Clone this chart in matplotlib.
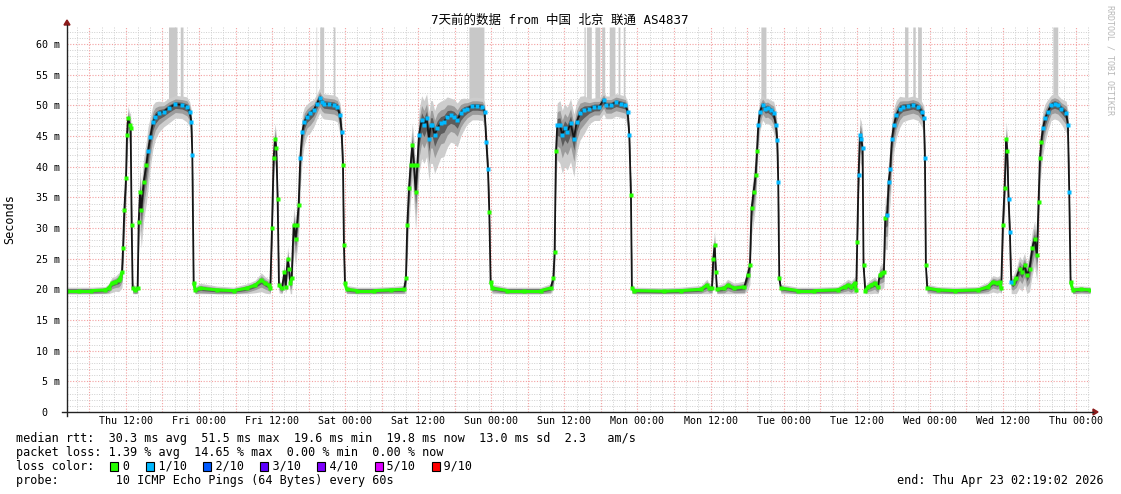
import numpy as np
import matplotlib
matplotlib.use("Agg")
import matplotlib.pyplot as plt
from matplotlib.collections import LineCollection
from matplotlib.patches import Rectangle, Polygon
from matplotlib.lines import Line2D
from matplotlib.transforms import IdentityTransform

# ---------------- data (x = hours since Thu Apr 16 02:19:02) ----------------
hours = [
    0.0, 2.0, 4.0, 6.3, 6.84, 7.39, 7.94, 8.48, 8.76, 9.03, 9.20, 9.41, 9.69, 9.85, 10.02,
    10.29, 10.45, 10.62, 10.78, 11.22, 11.60, 11.77, 11.99, 12.20, 12.59, 13.03, 13.30,
    13.68, 14.12, 14.50, 15.05, 15.87, 16.69, 17.79, 18.88, 19.70, 20.14, 20.42, 20.58,
    20.80, 21.07, 21.89, 24.63, 27.37, 29.56, 30.92, 31.91, 32.57, 33.11, 33.39, 33.66,
    33.93, 34.15, 34.37, 34.59, 34.81, 35.30, 35.69, 35.91, 36.23, 36.45, 36.67, 36.89,
    37.22, 37.55, 37.77, 38.04, 38.31, 38.64, 38.97, 39.41, 39.96, 40.50, 41.05, 41.49,
    41.87,
    42.2, 43.02, 43.84, 44.39, 44.83, 45.10, 45.32, 45.48, 45.65, 45.92, 47.67, 50.41,
    53.15, 55.34, 55.66, 55.88, 56.16, 56.43, 56.70, 56.98, 57.25, 57.53, 57.80, 58.24,
    58.62, 59.06, 59.44, 59.72, 59.99, 60.37, 60.81, 61.36, 61.90, 62.45, 63.00, 63.55,
    64.09, 64.64, 65.19, 65.74, 66.56, 67.38, 68.20, 68.58, 68.86, 69.13, 69.35, 69.57,
    69.84, 72.30, 75.04, 77.78, 79.42, 79.86, 80.08, 80.30, 80.51, 80.95, 81.33, 81.72,
    82.16, 82.70, 83.25, 83.69, 84.24,
    84.95, 85.77, 86.59, 87.41, 88.12, 88.51, 89.33, 90.15, 90.97, 91.68, 92.06, 92.34,
    92.61, 92.77, 93.16, 98.08, 100.82, 104.10, 105.09, 105.47, 105.91, 106.13, 106.35,
    106.57, 106.73, 107.94, 108.48, 109.58, 111.22, 111.77, 112.15, 112.42, 112.75,
    113.08, 113.30, 113.52, 113.79, 114.23, 114.67, 115.05, 115.60, 116.04, 116.42,
    116.64, 116.80, 116.97, 117.24, 119.98, 122.71, 126.55,
    127.69, 128.24, 128.79, 129.34, 129.61, 129.77, 129.99, 130.21, 130.43, 130.65,
    130.81, 131.09, 131.53, 132.07, 132.62, 133.17, 133.44, 133.82, 134.15, 134.37,
    134.70, 134.92, 135.19, 135.47, 135.80, 136.18, 136.73, 137.27, 138.09, 138.92,
    139.74, 140.39, 140.72, 140.89, 141.05, 141.27, 143.02, 145.76, 149.59, 151.23,
    152.05, 152.76, 153.15, 153.42, 153.69, 153.97, 154.24, 154.41, 154.62, 154.84,
    155.06, 155.34, 155.88, 156.43, 156.81, 157.25, 157.63, 158.07, 158.51, 158.89,
    159.28, 159.55, 159.77, 159.99, 160.26, 160.64, 161.08, 161.63, 162.18, 162.72,
    163.27, 164.09, 164.37, 164.59, 164.81, 165.19, 166.56, 168.0,
]

median_ms = [
    19.8, 19.8, 19.8, 19.9, 20.2, 21.0, 21.2, 21.5, 21.8, 22.8, 26.7, 32.9, 38.1, 45.2, 47.9,
    46.8, 46.3, 30.5, 20.2, 19.9, 20.2, 31.0, 35.9, 33.0, 37.5, 40.3, 42.5,
    44.9, 47.3, 48.2, 48.7, 49.0, 49.6, 50.2, 50.1, 49.8, 49.0, 47.3, 41.9,
    21.0, 19.9, 20.2, 19.9, 19.8, 20.2, 20.7, 21.5, 21.0, 20.7, 20.2, 30.0,
    41.4, 44.6, 43.0, 34.8, 20.7, 20.2, 22.8, 20.4, 25.0, 23.4, 21.0, 21.8,
    30.5, 28.3, 30.5, 33.7, 41.4, 45.7, 47.3, 48.2, 48.7, 49.2, 50.3, 51.3,
    50.6,
    50.3, 50.2, 50.1, 49.8, 48.4, 45.7, 40.3, 27.2, 21.0, 20.0, 19.8, 19.8,
    19.9, 20.0, 21.8, 30.5, 36.5, 40.3, 43.5, 40.3, 35.9, 40.3, 45.2, 47.6,
    46.8, 47.9, 44.6, 46.8, 46.8, 45.2, 46.3, 47.1, 47.3, 48.2, 48.4, 48.2,
    47.6, 48.7, 49.2, 49.5, 49.9, 49.9, 49.8, 49.0, 44.1, 39.7, 32.6, 21.2,
    20.2, 19.8, 19.8, 19.8, 20.2, 21.8, 26.1, 42.5, 46.8, 46.8, 45.2, 46.3,
    45.7, 47.1, 44.6, 47.3, 48.7,
    49.2, 49.5, 49.8, 49.8, 50.9, 50.1, 50.1, 50.5, 50.3, 50.1, 49.0, 45.2,
    35.4, 20.2, 19.8, 19.7, 19.8, 20.0, 20.7, 20.2, 20.2, 25.0, 27.2,
    22.8, 20.0, 20.2, 20.7, 20.2, 20.4, 22.3, 23.9, 33.2, 35.9,
    38.6, 42.5, 46.8, 49.0, 50.1, 49.5, 49.6, 49.2, 48.7, 46.8,
    44.3, 37.5, 21.8, 20.2, 19.8, 19.8, 19.9,
    20.4, 20.7, 20.4, 21.0, 19.9, 27.8, 38.6, 45.2, 44.6, 43.0,
    23.9, 19.8, 20.4, 20.7, 21.0, 20.4, 22.3, 22.6, 22.8, 31.6,
    32.1, 37.5, 39.7, 44.6, 46.8, 48.4, 49.5, 49.8, 49.9, 50.1,
    49.8, 49.0, 47.9, 41.4, 23.9, 20.2, 19.9, 19.8, 19.9, 20.4,
    21.2, 21.0, 21.2, 20.2, 30.5, 36.5, 44.6, 42.5, 34.8, 29.4,
    21.2, 21.0, 21.8, 23.4, 22.8, 23.9, 22.3, 23.4, 26.7, 28.3,
    25.6, 34.3, 41.4, 44.1, 46.3, 47.9, 49.0, 50.1, 50.3, 50.1,
    49.5, 48.7, 46.8, 35.9, 21.2, 19.9, 20.0, 19.9,
]

smoke_ms = [
    0.7, 0.7, 0.7, 0.7, 0.9, 1.2, 1.2, 1.5, 1.5, 2.0, 3.0, 3.5, 3.5, 3.0, 2.5,
    2.5, 3.0, 3.0, 1.0, 0.8, 1.0, 4.0, 5.0, 5.0, 5.0, 5.0, 5.0,
    4.0, 3.5, 3.0, 2.5, 2.0, 2.0, 1.8, 1.8, 2.0, 2.0, 2.5, 3.0,
    1.0, 0.8, 1.0, 0.8, 0.7, 0.9, 1.0, 1.5, 1.3, 1.2, 1.0, 3.0,
    3.5, 3.0, 3.0, 3.0, 1.0, 1.0, 2.0, 1.0, 2.5, 2.0, 1.5, 2.0,
    3.5, 3.5, 3.5, 4.0, 4.0, 3.5, 3.0, 2.5, 2.5, 2.2, 2.0, 2.0,
    2.0,
    2.0, 2.0, 2.0, 2.0, 2.5, 3.0, 3.0, 2.0, 1.0, 0.8, 0.7, 0.7,
    0.7, 0.8, 2.0, 4.0, 4.5, 4.5, 4.5, 5.0, 5.0, 5.0, 5.0, 5.0,
    5.0, 5.0, 5.5, 5.0, 5.0, 5.0, 5.0, 4.5, 4.5, 4.0, 3.5, 3.5,
    3.5, 3.0, 2.5, 2.0, 1.8, 1.8, 1.8, 2.0, 2.5, 3.0, 3.0, 1.0,
    0.8, 0.7, 0.7, 0.7, 0.9, 1.5, 3.0, 4.0, 4.5, 5.0, 5.0, 5.0,
    5.0, 5.0, 5.0, 4.0, 3.5,
    3.0, 2.0, 1.8, 1.8, 1.8, 1.8, 1.8, 1.8, 1.8, 1.8, 2.0, 2.5,
    3.0, 1.0, 0.7, 0.7, 0.7, 0.8, 1.2, 0.9, 1.0, 3.0, 3.0,
    2.0, 0.8, 1.0, 1.2, 1.0, 1.2, 2.0, 2.5, 3.5, 4.0,
    4.0, 3.5, 3.0, 2.5, 2.0, 2.0, 2.0, 2.0, 2.5, 3.0,
    3.0, 3.0, 1.0, 0.8, 0.7, 0.7, 0.7,
    1.0, 1.2, 1.2, 1.3, 0.8, 3.0, 3.5, 3.5, 3.5, 3.5,
    2.0, 0.8, 1.0, 1.2, 1.3, 1.2, 1.8, 2.0, 2.0, 4.0,
    4.5, 4.5, 4.5, 4.0, 3.5, 3.0, 2.5, 2.0, 1.8, 1.8,
    1.8, 2.0, 2.5, 3.0, 1.5, 0.8, 0.7, 0.7, 0.7, 1.0,
    1.3, 1.3, 1.3, 1.0, 3.0, 3.5, 3.5, 3.5, 3.0, 3.0,
    1.5, 1.5, 2.0, 2.5, 2.5, 2.5, 2.5, 3.0, 3.5, 3.5,
    3.5, 4.0, 4.0, 3.5, 3.5, 3.0, 2.5, 2.0, 2.0, 2.0,
    2.0, 2.5, 3.0, 3.0, 1.0, 0.8, 0.7, 0.7,
]

# periods whose median points carry 1/10 loss (cyan)
loss_1_spans = [(13.1, 20.7), (38.3, 45.3), (57.8, 69.2), (80.5, 92.6),
                (113.4, 116.9), (129.9, 130.7), (134.5, 140.9),
                (154.5, 155.1), (160.0, 164.6)]

# light-grey smoke columns that reach the top of the graph
spike_spans = [(16.67, 18.06), (18.6, 19.05), (40.9, 41.0), (41.5, 42.15),
               (43.73, 44.0), (66.0, 68.47), (84.9, 85.1), (85.3, 86.1),
               (86.7, 87.5), (87.8, 88.3), (89.05, 89.98), (90.5, 90.8),
               (91.35, 91.6), (113.95, 114.78), (137.55, 138.1),
               (138.9, 139.3), (139.7, 140.3), (161.9, 162.7)]

x_tick_hours = [9.683 + 12 * i for i in range(14)]
x_tick_labels = ["Thu 12:00", "Fri 00:00", "Fri 12:00", "Sat 00:00", "Sat 12:00",
                 "Sun 00:00", "Sun 12:00", "Mon 00:00", "Mon 12:00", "Tue 00:00",
                 "Tue 12:00", "Wed 00:00", "Wed 12:00", "Thu 00:00"]
y_tick_values = [0, 5, 10, 15, 20, 25, 30, 35, 40, 45, 50, 55, 60]
y_tick_labels = ["0  ", "5 m", "10 m", "15 m", "20 m", "25 m", "30 m", "35 m",
                 "40 m", "45 m", "50 m", "55 m", "60 m"]

legend_lines = [
    "median rtt:  30.3 ms avg  51.5 ms max  19.6 ms min  19.8 ms now  13.0 ms sd  2.3   am/s",
    "packet loss: 1.39 % avg  14.65 % max  0.00 % min  0.00 % now",
    "loss color:    0    1/10    2/10    3/10    4/10    5/10    9/10",
    "probe:        10 ICMP Echo Pings (64 Bytes) every 60s",
]
loss_colors = ["#26ff00", "#00b8ff", "#0059ff", "#5e00ff", "#7e00ff", "#dd00ff", "#ff0000"]
loss_box_cols = [13, 18, 26, 34, 42, 50, 58]

title = "7天前的数据 from 中国 北京 联通 AS4837"
end_text = "end: Thu Apr 23 02:19:02 2026"

# ---------------- figure ----------------
W, H = 1121, 494
MONO = ["DejaVu Sans Mono", "Noto Sans CJK SC"]
FS = 8.5
FS_TICK = 7.2
fig = plt.figure(figsize=(W / 100, H / 100), dpi=100)
fig.patch.set_facecolor("white")
idt = IdentityTransform()


def fx(x):
    return x / W


def fy(y):
    return 1 - y / H


ax = fig.add_axes([fx(67), fy(412), fx(1090) - fx(67), fy(27) - fy(412)])
ax.set_xlim(0, 168)
ax.set_ylim(0, 62.8)
for sp in ax.spines.values():
    sp.set_visible(False)

# grid
grid_minor = dict(color="#cfcfcf", lw=0.7, ls=(0, (1, 1.5)), zorder=0)
grid_major = dict(color="#f3a0a0", lw=0.8, ls=(0, (1, 1.5)), zorder=0.5)
for k in range(0, 85):
    h = 1.683 + 2 * k
    if h <= 0 or h >= 168:
        continue
    ax.axvline(h, **(grid_major if k % 3 == 1 else grid_minor))
for v in range(1, 63):
    ax.axhline(v, **(grid_major if v % 5 == 0 else grid_minor))

t = np.array(hours)
m = np.array(median_ms)
s = np.array(smoke_ms)

# spikes
for a, b in spike_spans:
    base = np.interp([a, b], t, m)
    ax.fill_between([a, b], base, [62.8, 62.8], color="#c8c8c8", lw=0, zorder=1.5)

# smoke
for frac, col in [(1.0, "#cdcdcd"), (0.6, "#9c9c9c"), (0.3, "#5c5c5c")]:
    lo = np.maximum(m - 1.25 * frac * s, 19.3)
    hi = m + 0.8 * frac * s
    ax.fill_between(t, lo, hi, color=col, lw=0, zorder=2)

# median line
ax.plot(t, m, color="#151515", lw=1.3, zorder=4, solid_joinstyle="miter")

is_cyan = np.zeros(len(t), dtype=bool)
for a, b in loss_1_spans:
    is_cyan |= (t >= a) & (t <= b)

segs = []
for i in range(len(t) - 1):
    if (not is_cyan[i]) and m[i] < 23 and m[i + 1] < 23 and abs(m[i + 1] - m[i]) < 1.6:
        segs.append([(t[i], m[i]), (t[i + 1], m[i + 1])])
ax.add_collection(LineCollection(segs, colors=loss_colors[0], linewidths=2.2, zorder=5))

ax.plot(t[~is_cyan], m[~is_cyan], ls="none", marker="s", ms=2.6,
        color=loss_colors[0], mec="none", zorder=6)
ax.plot(t[is_cyan], m[is_cyan], ls="none", marker="s", ms=2.4,
        color=loss_colors[1], mec="none", zorder=6)

# ticks
ax.set_xticks(x_tick_hours)
ax.set_xticklabels(x_tick_labels, fontfamily=MONO, fontsize=FS_TICK)
ax.set_yticks(y_tick_values)
ax.set_yticklabels(y_tick_labels, fontfamily=MONO, fontsize=FS_TICK)
ax.tick_params(axis="x", length=0, pad=3)
ax.tick_params(axis="y", length=0, pad=5)

# axes lines with arrows (pixel coordinates)
fig.add_artist(Line2D([62, 1093], [H - 412, H - 412], color="#222222", lw=1.0, transform=idt))
fig.add_artist(Line2D([67, 67], [H - 416, H - 25], color="#222222", lw=1.0, transform=idt))
fig.add_artist(Polygon([[1093, H - 409], [1093, H - 415], [1098, H - 412]], closed=True,
                       color="#8b1a1a", transform=idt))
fig.add_artist(Polygon([[64, H - 25], [70, H - 25], [67, H - 20]], closed=True,
                       color="#8b1a1a", transform=idt))

# texts
fig.text(fx(560), fy(20), title, ha="center", va="center", fontfamily=MONO, fontsize=9)
fig.text(fx(10), fy(219), "Seconds", rotation=90, ha="center", va="center",
         fontfamily=MONO, fontsize=FS)
fig.text(fx(1110), fy(60), "RRDTOOL / TOBI OETIKER", rotation=270, ha="center",
         va="center", fontfamily=MONO, fontsize=6, color="#b8b8b8")

line_y = [438, 452, 466, 480]
for txt, yy in zip(legend_lines, line_y):
    fig.text(fx(16), fy(yy), txt, ha="left", va="center", fontfamily=MONO, fontsize=FS)
fig.text(fx(1104), fy(480), end_text, ha="right", va="center", fontfamily=MONO, fontsize=FS)

cw = 7.15
for col_idx, c in zip(loss_box_cols, loss_colors):
    x0 = 16 + col_idx * cw + 1
    fig.add_artist(Rectangle((x0, H - 466 - 4.5), 8, 9, facecolor=c, edgecolor="black",
                             lw=0.8, transform=idt))

fig.savefig("out.png", dpi=100, facecolor="white")
